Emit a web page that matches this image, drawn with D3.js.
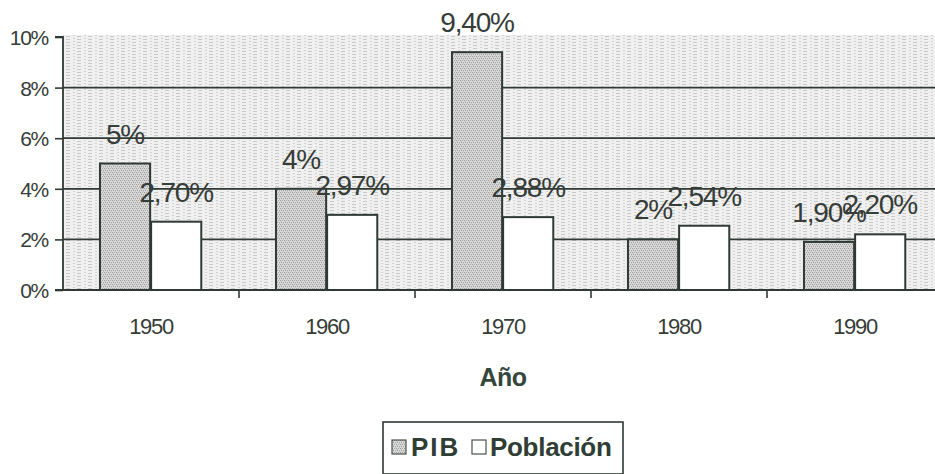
<!DOCTYPE html>
<html>
<head>
<meta charset="utf-8">
<script src="https://cdn.jsdelivr.net/npm/d3@7"></script>
<style>
  html, body { margin: 0; padding: 0; background: #ffffff; }
  svg { display: block; }
  text { font-family: Arial, "Liberation Sans", sans-serif; }
</style>
</head>
<body>
<div id="chart"></div>
<script>
const categories = ["1950", "1960", "1970", "1980", "1990"];
const seriesNames = ["PIB", "Población"];
const pibValues = [5, 4, 9.4, 2, 1.9];
const poblacionValues = [2.70, 2.97, 2.88, 2.54, 2.20];
const pibLabels = ["5%", "4%", "9,40%", "2%", "1,90%"];
const poblacionLabels = ["2,70%", "2,97%", "2,88%", "2,54%", "2,20%"];
const yTicks = [0, 2, 4, 6, 8, 10];
const yTickLabels = ["0%", "2%", "4%", "6%", "8%", "10%"];
const xTitle = "Año";

const W = 935, H = 474;
const margin = { left: 63, top: 37, right: -8, bottom: 184 };
const plotL = margin.left, plotR = W - margin.right, plotT = margin.top, plotB = H - margin.bottom;

const lineCol = "#2e3a33";
const textCol = "#363c38";

const svg = d3.select("#chart").append("svg").attr("width", W).attr("height", H);
const defs = svg.append("defs");

// dithered plot background
const bgPat = defs.append("pattern").attr("id", "bgdither").attr("patternUnits", "userSpaceOnUse")
  .attr("width", 11).attr("height", 3);
bgPat.append("rect").attr("width", 11).attr("height", 3).attr("fill", "#f0f0f0");
bgPat.append("rect").attr("x", 0).attr("y", 0).attr("width", 4).attr("height", 1).attr("fill", "#c8c8c8");
bgPat.append("rect").attr("x", 7).attr("y", 2).attr("width", 2).attr("height", 1).attr("fill", "#d2d2d2");

// dithered PIB bar fill (fine stipple)
const barPat = defs.append("pattern").attr("id", "bardither").attr("patternUnits", "userSpaceOnUse")
  .attr("width", 4).attr("height", 4);
barPat.append("rect").attr("width", 4).attr("height", 4).attr("fill", "#d9d9d9");
[[0, 0, "#9c9c9c"], [2, 0, "#a8a8a8"], [1, 2, "#a0a0a0"], [3, 2, "#aaaaaa"], [1, 1, "#c4c4c4"], [3, 3, "#c4c4c4"]]
  .forEach(p => barPat.append("rect").attr("x", p[0]).attr("y", p[1]).attr("width", 1).attr("height", 1).attr("fill", p[2]));

const x = d3.scaleBand().domain(categories).range([plotL, plotR]).paddingInner(0).paddingOuter(0);
const y = d3.scaleLinear().domain([0, 10]).range([plotB, plotT]);
const bw = x.bandwidth();
const barW = bw * 0.285;
const barOff = bw * 0.21;

// plot background
svg.append("rect").attr("x", plotL).attr("y", y(10) - 2).attr("width", plotR - plotL).attr("height", plotB - y(10) + 2)
  .attr("fill", "url(#bgdither)");

// gridlines
svg.append("g").selectAll("line").data(yTicks.filter(d => d > 0 && d < 10)).join("line")
  .attr("x1", plotL).attr("x2", plotR).attr("y1", d => y(d)).attr("y2", d => y(d))
  .attr("stroke", lineCol).attr("stroke-width", 1.8);

// bars
const data = categories.map((c, i) => ({ c, pib: pibValues[i], pob: poblacionValues[i], pl: pibLabels[i], ol: poblacionLabels[i] }));
const bars = svg.append("g");
bars.selectAll("rect.pib").data(data).join("rect").attr("class", "pib")
  .attr("x", d => x(d.c) + barOff).attr("width", barW)
  .attr("y", d => y(d.pib)).attr("height", d => y(0) - y(d.pib))
  .attr("fill", "url(#bardither)").attr("stroke", lineCol).attr("stroke-width", 2);
bars.selectAll("rect.pob").data(data).join("rect").attr("class", "pob")
  .attr("x", d => x(d.c) + barOff + barW + 1).attr("width", barW)
  .attr("y", d => y(d.pob)).attr("height", d => y(0) - y(d.pob))
  .attr("fill", "#ffffff").attr("stroke", lineCol).attr("stroke-width", 2);

// value labels
const lab = svg.append("g").attr("fill", textCol).attr("font-size", 28).attr("letter-spacing", "-1.2px").attr("text-anchor", "middle");
lab.selectAll("text.pl").data(data).join("text").attr("class", "pl")
  .attr("x", d => x(d.c) + barOff + barW / 2).attr("y", d => y(d.pib) - 20).text(d => d.pl);
lab.selectAll("text.ol").data(data).join("text").attr("class", "ol")
  .attr("x", d => x(d.c) + barOff + barW * 1.5 + 1).attr("y", d => y(d.pob) - 20).text(d => d.ol);

// y axis
const yAxis = d3.axisLeft(y).tickValues(yTicks).tickFormat((d, i) => yTickLabels[i]).tickSize(8).tickPadding(7);
const gy = svg.append("g").attr("transform", `translate(${plotL},0)`).call(yAxis);
gy.select(".domain").attr("stroke", lineCol).attr("stroke-width", 1.8).attr("d", `M-8,${y(10)}H0V${y(0)}H-8`);
gy.selectAll(".tick line").attr("stroke", lineCol).attr("stroke-width", 1.6);
gy.selectAll(".tick text").attr("fill", textCol).attr("font-size", 21).attr("letter-spacing", "-1.3px")
  .attr("font-family", "Arial, 'Liberation Sans', sans-serif").attr("dy", "0.36em");

// x axis
const xAxis = d3.axisBottom(x).tickSize(0).tickPadding(28);
const gx = svg.append("g").attr("transform", `translate(0,${plotB})`).call(xAxis);
gx.select(".domain").attr("stroke", lineCol).attr("stroke-width", 1.8).attr("d", `M${plotL},0H${plotR}`);
gx.selectAll(".tick text").attr("fill", textCol).attr("font-size", 22).attr("letter-spacing", "-1.3px")
  .attr("font-family", "Arial, 'Liberation Sans', sans-serif");
// category boundary ticks
svg.append("g").selectAll("line").data(categories.slice(1)).join("line")
  .attr("x1", d => x(d)).attr("x2", d => x(d)).attr("y1", plotB).attr("y2", plotB + 8)
  .attr("stroke", lineCol).attr("stroke-width", 1.6);

// x title
svg.append("text").attr("x", (plotL + plotR) / 2).attr("y", 386).attr("text-anchor", "middle")
  .attr("font-size", 25).attr("font-weight", "bold").attr("letter-spacing", "-0.5px").attr("fill", "#34463c").text(xTitle);

// legend
const lg = svg.append("g");
lg.append("rect").attr("x", 383).attr("y", 422).attr("width", 240).attr("height", 52)
  .attr("fill", "#ffffff").attr("stroke", lineCol).attr("stroke-width", 1.6);
const legendItems = [
  { name: seriesNames[0], fill: "url(#bardither)", sx: 392, tx: 411, ls: "2px" },
  { name: seriesNames[1], fill: "#ffffff", sx: 472, tx: 490, ls: "-0.3px" }
];
lg.selectAll("rect.sw").data(legendItems).join("rect").attr("class", "sw")
  .attr("x", d => d.sx).attr("y", 440).attr("width", 14).attr("height", 14)
  .attr("fill", d => d.fill).attr("stroke", "#4a524c").attr("stroke-width", 1.2);
lg.selectAll("text").data(legendItems).join("text")
  .attr("x", d => d.tx).attr("y", 456).attr("font-size", 26).attr("font-weight", "bold")
  .attr("letter-spacing", d => d.ls).attr("fill", "#2f3d35").text(d => d.name);
</script>
</body>
</html>
